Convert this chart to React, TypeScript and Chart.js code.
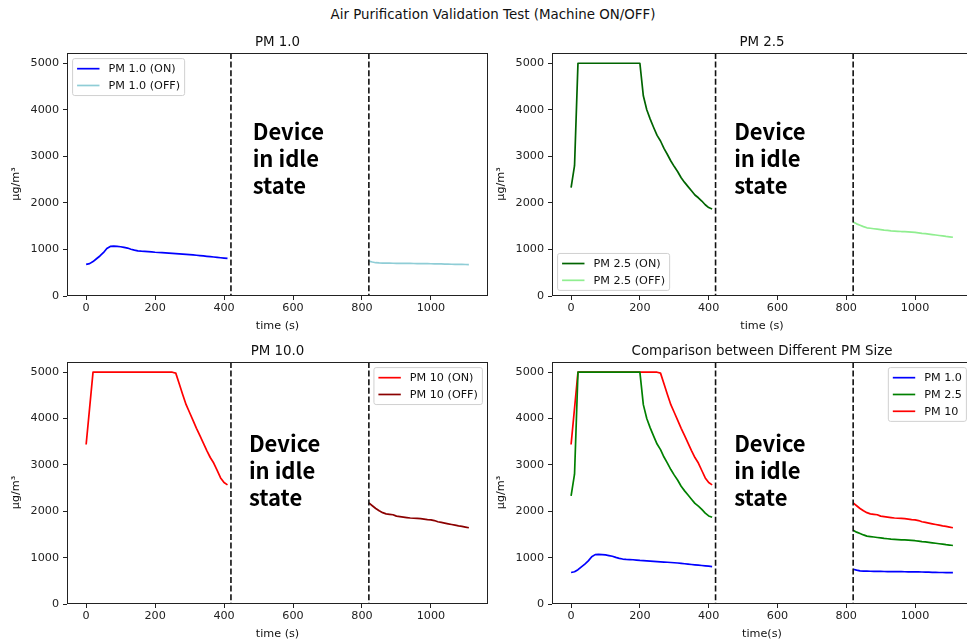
import { useEffect, useRef } from "react";
import { Chart, registerables } from "chart.js";

Chart.register(...registerables);

const FONT = "'DejaVu Sans', sans-serif";
const IDLE_FONT = "'Noto Sans CJK KR', 'Noto Sans', sans-serif";

// ---------- data ----------
const suptitle = "Air Purification Validation Test (Machine ON/OFF)";
const yLabel = "μg/m³";
const idleText = ["Device", "in idle", "state"];
const idleLines = [420, 820];
const xTicks = [0, 200, 400, 600, 800, 1000];
const yTicks = [0, 1000, 2000, 3000, 4000, 5000];
const xRange = [-55.5, 1165.5];
const yRange = [0, 5220];

const timeOn = [0, 10, 20, 30, 40, 50, 60, 70, 80, 90, 100, 110, 120, 130, 140, 150, 160, 170, 180, 190, 200, 210, 220, 230, 240, 250, 260, 270, 280, 290, 300, 310, 320, 330, 340, 350, 360, 370, 380, 390, 400, 410];
const timeOff = [820, 830, 840, 850, 860, 870, 880, 890, 900, 910, 920, 930, 940, 950, 960, 970, 980, 990, 1000, 1010, 1020, 1030, 1040, 1050, 1060, 1070, 1080, 1090, 1100, 1110];

const pm1On = [680, 695, 740, 800, 860, 930, 1020, 1065, 1070, 1065, 1058, 1045, 1030, 1005, 985, 970, 962, 958, 955, 948, 940, 935, 930, 925, 920, 915, 910, 905, 900, 895, 890, 884, 876, 868, 860, 852, 845, 838, 830, 822, 815, 808];
const pm1Off = [750, 730, 715, 710, 708, 706, 705, 703, 702, 701, 700, 700, 699, 698, 697, 696, 695, 694, 693, 692, 690, 688, 686, 684, 682, 680, 679, 678, 677, 676];

const pm25On = [2330, 2800, 5000, 5000, 5000, 5000, 5000, 5000, 5000, 5000, 5000, 5000, 5000, 5000, 5000, 5000, 5000, 5000, 5000, 5000, 5000, 4300, 4000, 3800, 3620, 3450, 3330, 3170, 3040, 2900, 2780, 2670, 2540, 2440, 2350, 2260, 2170, 2110, 2040, 1960, 1900, 1870];
const pm25Off = [1590, 1550, 1520, 1490, 1465, 1455, 1445, 1435, 1425, 1415, 1408, 1400, 1395, 1390, 1385, 1382, 1378, 1372, 1365, 1355, 1345, 1340, 1330, 1320, 1310, 1300, 1290, 1280, 1272, 1262];

const pm10On = [3440, 4220, 5000, 5000, 5000, 5000, 5000, 5000, 5000, 5000, 5000, 5000, 5000, 5000, 5000, 5000, 5000, 5000, 5000, 5000, 5000, 5000, 5000, 5000, 5000, 5000, 4980, 4750, 4520, 4300, 4130, 3960, 3790, 3630, 3470, 3310, 3160, 3040, 2880, 2720, 2620, 2570];
const pm10Off = [2180, 2120, 2060, 2010, 1970, 1945, 1935, 1925, 1895, 1885, 1875, 1865, 1855, 1850, 1848, 1840, 1830, 1820, 1815, 1800, 1775, 1760, 1745, 1730, 1715, 1700, 1685, 1675, 1660, 1645];

const C_PM1_ON = "#0000ff";
const C_PM1_OFF = "#8fcdd6";
const C_PM25_ON = "#006400";
const C_PM25_OFF = "#90ee90";
const C_PM10_ON = "#ff0000";
const C_PM10_OFF = "#8b0000";
const C_PM25_CMP = "#008000";

type Series = { x: number[]; y: number[]; color: string };
type LegendItem = { label: string; color: string };
type Panel = {
  frame: [number, number, number, number];
  title: string;
  xLabel: string;
  series: Series[];
  legend: LegendItem[];
  loc: "upper left" | "lower left" | "upper right";
  textX: number;
  textY: number;
};

const panels: Panel[] = [
  {
    frame: [67, 53, 488, 296],
    title: "PM 1.0",
    xLabel: "time (s)",
    series: [
      { x: timeOn, y: pm1On, color: C_PM1_ON },
      { x: timeOff, y: pm1Off, color: C_PM1_OFF },
    ],
    legend: [
      { label: "PM 1.0 (ON)", color: C_PM1_ON },
      { label: "PM 1.0 (OFF)", color: C_PM1_OFF },
    ],
    loc: "upper left",
    textX: 483,
    textY: 3360,
  },
  {
    frame: [552, 53, 972, 296],
    title: "PM 2.5",
    xLabel: "time (s)",
    series: [
      { x: timeOn, y: pm25On, color: C_PM25_ON },
      { x: timeOff, y: pm25Off, color: C_PM25_OFF },
    ],
    legend: [
      { label: "PM 2.5 (ON)", color: C_PM25_ON },
      { label: "PM 2.5 (OFF)", color: C_PM25_OFF },
    ],
    loc: "lower left",
    textX: 474,
    textY: 3360,
  },
  {
    frame: [67, 362, 488, 604],
    title: "PM 10.0",
    xLabel: "time (s)",
    series: [
      { x: timeOn, y: pm10On, color: C_PM10_ON },
      { x: timeOff, y: pm10Off, color: C_PM10_OFF },
    ],
    legend: [
      { label: "PM 10 (ON)", color: C_PM10_ON },
      { label: "PM 10 (OFF)", color: C_PM10_OFF },
    ],
    loc: "upper right",
    textX: 472,
    textY: 3285,
  },
  {
    frame: [552, 362, 972, 604],
    title: "Comparison between Different PM Size",
    xLabel: "time(s)",
    series: [
      { x: timeOn, y: pm1On, color: C_PM1_ON },
      { x: timeOff, y: pm1Off, color: C_PM1_ON },
      { x: timeOn, y: pm25On, color: C_PM25_CMP },
      { x: timeOff, y: pm25Off, color: C_PM25_CMP },
      { x: timeOn, y: pm10On, color: C_PM10_ON },
      { x: timeOff, y: pm10Off, color: C_PM10_ON },
    ],
    legend: [
      { label: "PM 1.0", color: C_PM1_ON },
      { label: "PM 2.5", color: C_PM25_CMP },
      { label: "PM 10", color: C_PM10_ON },
    ],
    loc: "upper right",
    textX: 474,
    textY: 3285,
  },
];

// ---------- layout ----------
const PADL = 70;
const PADT = 40;
const PADR = 12;
const PADB = 45;
const LW = 1.7;

function geom(p: Panel) {
  const [L, T, R, B] = p.frame;
  return { x: L - PADL, y: T - PADT, w: R - L + PADL + PADR, h: B - T + PADT + PADB };
}

function roundRect(ctx: CanvasRenderingContext2D, x: number, y: number, w: number, h: number, r: number) {
  ctx.beginPath();
  ctx.moveTo(x + r, y);
  ctx.lineTo(x + w - r, y);
  ctx.arcTo(x + w, y, x + w, y + r, r);
  ctx.lineTo(x + w, y + h - r);
  ctx.arcTo(x + w, y + h, x + w - r, y + h, r);
  ctx.lineTo(x + r, y + h);
  ctx.arcTo(x, y + h, x, y + h - r, r);
  ctx.lineTo(x, y + r);
  ctx.arcTo(x, y, x + r, y, r);
  ctx.closePath();
}

function makePlugin(p: Panel) {
  return {
    id: "decor",
    afterDatasetsDraw(chart: any) {
      const ctx: CanvasRenderingContext2D = chart.ctx;
      const ca = chart.chartArea;
      const xs = chart.scales.x;
      const ys = chart.scales.y;
      ctx.save();

      // dashed idle boundaries
      ctx.strokeStyle = "#111";
      ctx.lineWidth = 1.6;
      ctx.setLineDash([6, 2.6]);
      for (const v of idleLines) {
        const px = xs.getPixelForValue(v);
        ctx.beginPath();
        ctx.moveTo(px, ca.top);
        ctx.lineTo(px, ca.bottom);
        ctx.stroke();
      }
      ctx.setLineDash([]);

      // idle text
      ctx.fillStyle = "#000";
      ctx.font = `bold 22px ${IDLE_FONT}`;
      ctx.textAlign = "left";
      ctx.textBaseline = "alphabetic";
      const tx = xs.getPixelForValue(p.textX);
      const ty = ys.getPixelForValue(p.textY);
      idleText.forEach((line, i) => ctx.fillText(line, tx, ty + i * 27));

      // frame
      ctx.strokeStyle = "#222";
      ctx.lineWidth = 1;
      ctx.strokeRect(ca.left + 0.5, ca.top + 0.5, ca.right - ca.left - 1, ca.bottom - ca.top - 1);

      // legend (matplotlib style)
      const f = 11.2;
      ctx.font = `${f}px ${FONT}`;
      const textW = Math.max(...p.legend.map((it) => ctx.measureText(it.label).width));
      const bp = 0.4 * f;
      const hl = 2 * f;
      const htp = 0.8 * f;
      const ls = 0.5 * f;
      const bap = 0.5 * f;
      const n = p.legend.length;
      const w = bp + hl + htp + textW + bp;
      const h = 2 * bp + n * f + (n - 1) * ls;
      let lx = ca.left + bap;
      let ly = ca.top + bap;
      if (p.loc === "lower left") ly = ca.bottom - bap - h;
      if (p.loc === "upper right") lx = ca.right - bap - w;
      roundRect(ctx, lx, ly, w, h, 2.2);
      ctx.fillStyle = "rgba(255,255,255,0.8)";
      ctx.fill();
      ctx.strokeStyle = "#d0d0d0";
      ctx.lineWidth = 1;
      ctx.stroke();
      p.legend.forEach((it, i) => {
        const cy = ly + bp + f / 2 + i * (f + ls);
        ctx.strokeStyle = it.color;
        ctx.lineWidth = LW;
        ctx.beginPath();
        ctx.moveTo(lx + bp, cy);
        ctx.lineTo(lx + bp + hl, cy);
        ctx.stroke();
        ctx.fillStyle = "#111";
        ctx.textAlign = "left";
        ctx.textBaseline = "middle";
        ctx.fillText(it.label, lx + bp + hl + htp, cy + 0.5);
      });

      // title
      const cx = (ca.left + ca.right) / 2;
      ctx.fillStyle = "#111";
      ctx.textAlign = "center";
      ctx.textBaseline = "alphabetic";
      ctx.font = `13.4px ${FONT}`;
      ctx.fillText(p.title, cx, ca.top - 6.7);

      // x label
      ctx.font = `11.2px ${FONT}`;
      ctx.fillText(p.xLabel, cx, ca.bottom + 32.5);

      // y label
      ctx.translate(ca.left - 48, (ca.top + ca.bottom) / 2 + 9.5);
      ctx.rotate(-Math.PI / 2);
      ctx.fillText(yLabel, 0, 0);

      ctx.restore();
    },
  };
}

function makeChart(canvas: HTMLCanvasElement, p: Panel) {
  const g = geom(p);
  return new Chart(canvas, {
    type: "line",
    data: {
      datasets: p.series.map((s) => ({
        data: s.x.map((t, i) => ({ x: t, y: s.y[i] })),
        borderColor: s.color,
        backgroundColor: s.color,
        borderWidth: LW,
        pointRadius: 0,
        pointHoverRadius: 0,
        tension: 0,
        fill: false,
        borderJoinStyle: "round" as const,
        borderCapStyle: "butt" as const,
      })),
    },
    options: {
      animation: false,
      responsive: false,
      maintainAspectRatio: false,
      devicePixelRatio: 1,
      events: [],
      layout: { padding: { left: 0, top: PADT, right: PADR, bottom: 0 } },
      plugins: {
        legend: { display: false },
        title: { display: false },
        tooltip: { enabled: false },
      },
      scales: {
        x: {
          type: "linear",
          min: xRange[0],
          max: xRange[1],
          afterBuildTicks: (s: any) => {
            s.ticks = xTicks.map((v) => ({ value: v }));
          },
          afterFit: (s: any) => {
            s.height = PADB;
          },
          ticks: {
            autoSkip: false,
            maxRotation: 0,
            padding: 1,
            color: "#222",
            font: { family: FONT, size: 11.2 },
            callback: (v: any) => `${v}`,
          },
          grid: { display: true, drawOnChartArea: false, drawTicks: true, tickLength: 4, color: "#222", lineWidth: 1 },
          border: { display: false },
        },
        y: {
          type: "linear",
          min: yRange[0],
          max: yRange[1],
          afterBuildTicks: (s: any) => {
            s.ticks = yTicks.map((v) => ({ value: v }));
          },
          afterFit: (s: any) => {
            s.width = PADL;
          },
          ticks: {
            autoSkip: false,
            padding: 4,
            color: "#222",
            font: { family: FONT, size: 11.2 },
            callback: (v: any) => `${v}`,
          },
          grid: { display: true, drawOnChartArea: false, drawTicks: true, tickLength: 4, color: "#222", lineWidth: 1 },
          border: { display: false },
        },
      },
    },
    plugins: [makePlugin(p)],
  } as any);
}

export default function App() {
  const refs = useRef<(HTMLCanvasElement | null)[]>([]);
  useEffect(() => {
    const charts = panels.map((p, i) => makeChart(refs.current[i] as HTMLCanvasElement, p));
    return () => charts.forEach((c) => c.destroy());
  }, []);
  return (
    <div
      style={{
        position: "absolute",
        left: 0,
        top: 0,
        width: 967,
        height: 643,
        overflow: "hidden",
        background: "#fff",
      }}
    >
      <div
        style={{
          position: "absolute",
          left: 0,
          top: 7.4,
          width: 986,
          textAlign: "center",
          font: `13.4px ${FONT}`,
          lineHeight: "16px",
          color: "#111",
          whiteSpace: "nowrap",
        }}
      >
        {suptitle}
      </div>
      {panels.map((p, i) => {
        const g = geom(p);
        return (
          <canvas
            key={i}
            ref={(el) => {
              refs.current[i] = el;
            }}
            width={g.w}
            height={g.h}
            style={{ position: "absolute", left: g.x, top: g.y, width: g.w, height: g.h }}
          />
        );
      })}
    </div>
  );
}
